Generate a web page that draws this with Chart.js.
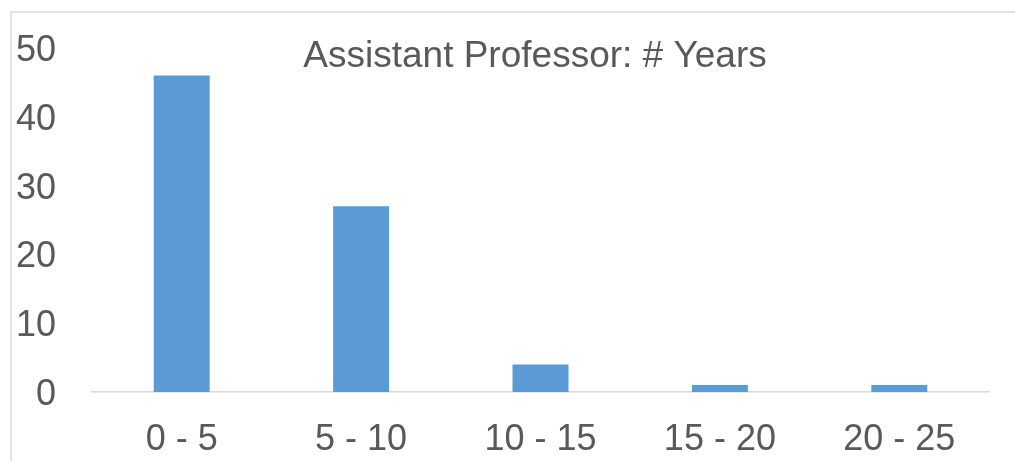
<!DOCTYPE html>
<html lang="en">
<head>
 <meta charset="UTF-8">
 <title>Assistant Professor: # Years</title>
 <script src="https://cdn.jsdelivr.net/npm/chart.js"></script>
 <style>
 html, body { margin: 0; padding: 0; background: #fff; }
 #wrap { width: 1015px; height: 461px; }
 </style>
</head>
<body>
 <div id="wrap"><canvas id="myChart" width="1015" height="461"></canvas></div>
 <script>
 // data
 const categories = ['0 - 5', '5 - 10', '10 - 15', '15 - 20', '20 - 25'];
 const counts = [46, 27, 4, 1, 1];
 const yTicks = [0, 10, 20, 30, 40, 50];
 const chartTitle = 'Assistant Professor: # Years';

 const fontFamily = '"Liberation Sans", Arial, Helvetica, sans-serif';
 const textColor = '#595959';

 // outer frame, like the office chart border
 const framePlugin = {
 id: 'frame',
 beforeDraw(chart) {
 const c = chart.ctx;
 c.save();
 c.strokeStyle = '#d9d9d9';
 c.lineWidth = 1.5;
 c.strokeRect(11, 12, 2000, 2000);
 c.restore();
 }
 };

 // title sits inside the plot area, so draw it ourselves
 const titlePlugin = {
 id: 'innerTitle',
 afterDraw(chart) {
 const c = chart.ctx;
 c.save();
 c.font = '37px ' + fontFamily;
 c.fillStyle = textColor;
 c.textAlign = 'center';
 c.textBaseline = 'middle';
 c.fillText(chartTitle, 535, 57);
 c.restore();
 }
 };

 const ctx = document.getElementById('myChart').getContext('2d');
 new Chart(ctx, {
 type: 'bar',
 data: {
 labels: categories,
 datasets: [{
 data: counts,
 backgroundColor: '#5b9bd5',
 categoryPercentage: 1,
 barPercentage: 0.312
 }]
 },
 options: {
 responsive: false,
 animation: false,
 layout: { padding: { top: 48, right: 26, bottom: 0, left: 0 } },
 plugins: {
 legend: { display: false },
 tooltip: { enabled: false }
 },
 scales: {
 x: {
 grid: { display: false, drawTicks: false },
 border: { display: true, color: '#d9d9d9', width: 1.5 },
 afterFit(scale) { scale.height = 69; },
 ticks: {
 color: textColor,
 font: { family: fontFamily, size: 36 },
 padding: 26,
 maxRotation: 0
 }
 },
 y: {
 min: 0,
 max: 50,
 grid: { display: false, drawTicks: false },
 border: { display: false },
 afterFit(scale) {
 scale.width = 92;
 // labels may overhang; do not let them push the plot area
 scale.paddingTop = 0;
 scale.paddingBottom = 0;
 },
 afterBuildTicks(scale) { scale.ticks = yTicks.map(v => ({ value: v })); },
 ticks: {
 color: textColor,
 font: { family: fontFamily, size: 36 },
 padding: 36,
 labelOffset: 3
 }
 }
 }
 },
 plugins: [framePlugin, titlePlugin]
 });
 </script>
</body>
</html>
